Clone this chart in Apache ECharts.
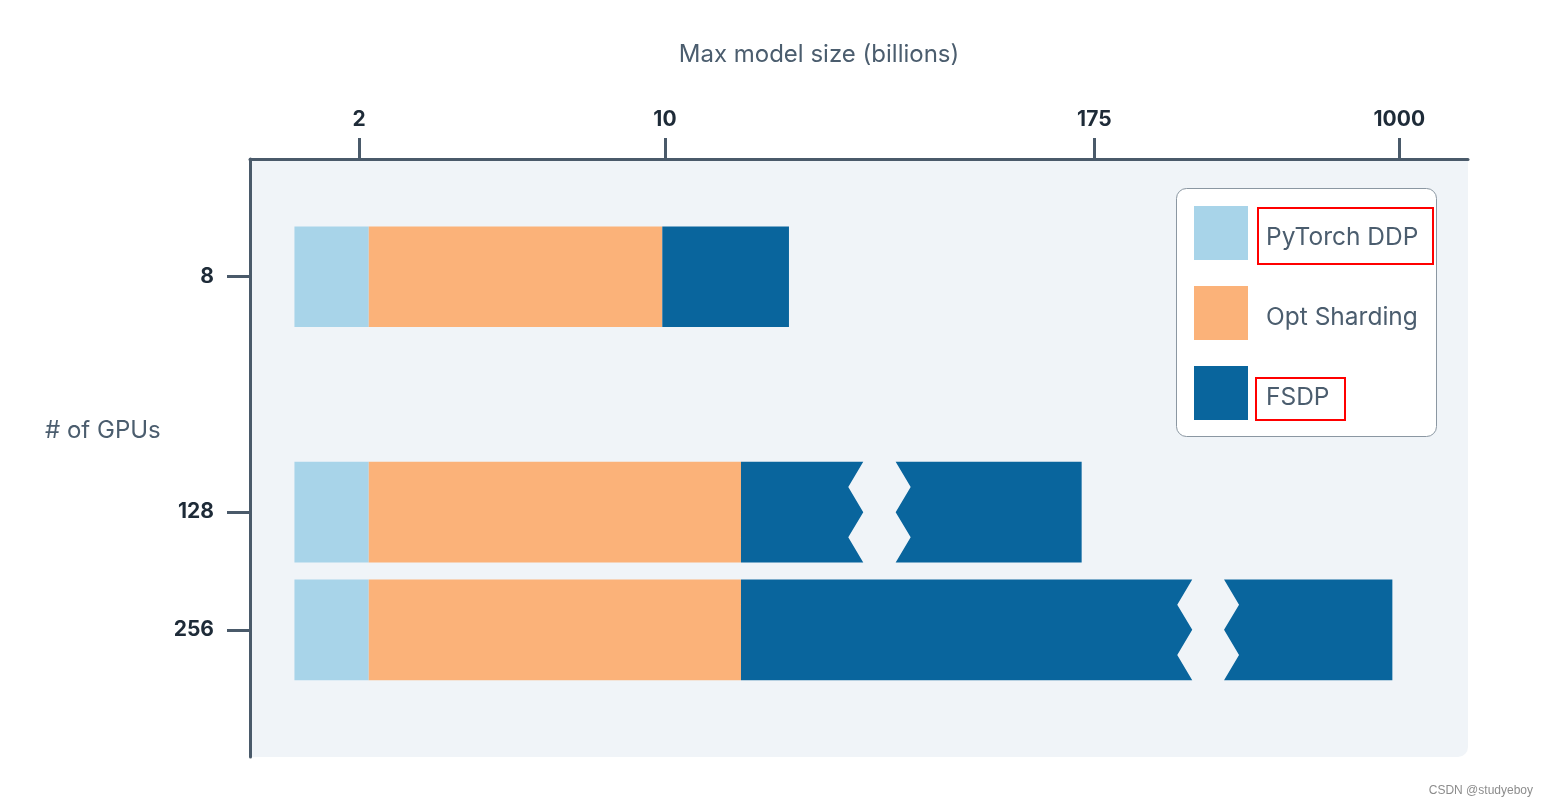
<!DOCTYPE html>
<html>
<head>
<meta charset="utf-8">
<script src="https://cdn.jsdelivr.net/npm/echarts@6/dist/echarts.min.js"></script>
<style>
html,body{margin:0;padding:0;background:#fff;}
#chart{width:1549px;height:809px;}
</style>
</head>
<body>
<div id="chart"></div>
<script>
// ---- data (schematic positions, x axis 0..100) ----
const gpuLabels = ['8', '128', '256'];
const gpuRowPos = [1, 3, 4];
const barStart = [3.65, 3.65, 3.65];
const ddpEnd = [9.75, 9.75, 9.75];
const optEnd = [33.85, 40.31, 40.31];
const fsdpEnd = [44.25, 68.28, 93.79];
const fsdpBreakFrom = [null, 50.35, 77.36];
const fsdpBreakTo = [null, 53.01, 79.97];
const xTickPos = [8.95, 34.07, 69.32, 94.36];
const xTickLabels = ['2', '10', '175', '1000'];
const seriesNames = ['PyTorch DDP', 'Opt Sharding', 'FSDP'];

const C_DDP = '#a8d4e9', C_OPT = '#fbb279', C_FSDP = '#09659d';
const AXIS = '#4a5a6a';
const BAR_H = 0.855;
const NOTCH = 15;
const FONT = 'Inter, "Noto Sans", sans-serif';

function rectItem(params, api) {
  const y = api.value(0), a = api.value(1), b = api.value(2);
  const p1 = api.coord([a, y]), p2 = api.coord([b, y]);
  const h = api.size([0, BAR_H])[1];
  return {
    type: 'rect',
    shape: { x: p1[0], y: p1[1] - h / 2, width: p2[0] - p1[0], height: h },
    style: { fill: api.visual('color') }
  };
}

function fsdpItem(params, api) {
  const y = api.value(0), a = api.value(1), b = api.value(2);
  const bf = api.value(3), bt = api.value(4);
  const h = api.size([0, BAR_H])[1];
  const pa = api.coord([a, y]), pb = api.coord([b, y]);
  const top = pa[1] - h / 2, bot = pa[1] + h / 2;
  const fill = api.visual('color');
  if (isNaN(bf) || isNaN(bt)) {
    return { type: 'rect', shape: { x: pa[0], y: top, width: pb[0] - pa[0], height: h }, style: { fill } };
  }
  const xf = api.coord([bf, y])[0], xt = api.coord([bt, y])[0];
  const left = [[pa[0], top], [xf, top], [xf - NOTCH, top + h / 4], [xf, top + h / 2],
                [xf - NOTCH, top + 3 * h / 4], [xf, bot], [pa[0], bot]];
  const right = [[xt, top], [pb[0], top], [pb[0], bot], [xt, bot],
                 [xt + NOTCH, top + 3 * h / 4], [xt, top + h / 2], [xt + NOTCH, top + h / 4]];
  return {
    type: 'group',
    children: [
      { type: 'polygon', shape: { points: left }, style: { fill } },
      { type: 'polygon', shape: { points: right }, style: { fill } }
    ]
  };
}

const chart = echarts.init(document.getElementById('chart'), null, { renderer: 'canvas' });

const option = {
  animation: false,
  backgroundColor: '#ffffff',
  textStyle: { fontFamily: FONT },
  grid: { left: 250, right: 81, top: 159, bottom: 52, containLabel: false },
  xAxis: {
    type: 'value', position: 'top', min: 0, max: 100,
    axisLine: { show: true, lineStyle: { color: AXIS, width: 3 } },
    axisTick: { show: true, length: 21, customValues: xTickPos, lineStyle: { color: AXIS, width: 3 } },
    axisLabel: {
      customValues: xTickPos, margin: 29,
      formatter: v => xTickLabels[xTickPos.indexOf(v)],
      color: '#1e2b38', fontSize: 21, fontWeight: 'bold', fontFamily: FONT
    },
    splitLine: { show: false }
  },
  yAxis: {
    type: 'value', inverse: true, min: 0, max: 5.08,
    axisLine: { show: true, lineStyle: { color: AXIS, width: 3 } },
    axisTick: { show: true, length: 23, customValues: gpuRowPos, lineStyle: { color: AXIS, width: 3 } },
    axisLabel: {
      customValues: gpuRowPos, margin: 36,
      formatter: v => gpuLabels[gpuRowPos.indexOf(v)],
      color: '#1e2b38', fontSize: 21, fontWeight: 'bold', fontFamily: FONT
    },
    splitLine: { show: false }
  },
  legend: {
    orient: 'vertical', left: 1194, top: 206, padding: 0,
    itemWidth: 54, itemHeight: 54, itemGap: 26, icon: 'rect', z: 10,
    data: seriesNames,
    formatter: name => '{t|' + name + '}',
    textStyle: {
      fontSize: 24.5, color: '#4b5d6e', fontFamily: FONT,
      rich: { t: { fontSize: 24.5, color: '#4b5d6e', fontFamily: FONT, padding: [10, 0, 0, 13] } }
    }
  },
  graphic: [
    { type: 'rect', z: -10, shape: { x: 250, y: 159, width: 1218, height: 598, r: [0, 0, 10, 0] }, style: { fill: '#f0f4f8' } },
    { type: 'rect', z: 3, shape: { x: 1176.5, y: 188.5, width: 260, height: 248, r: 10 }, style: { fill: '#ffffff', stroke: '#8b97a2', lineWidth: 1 } },
    { type: 'rect', z: 20, shape: { x: 1258, y: 208, width: 175, height: 56 }, style: { fill: 'none', stroke: '#ff0000', lineWidth: 2 } },
    { type: 'rect', z: 20, shape: { x: 1256, y: 378, width: 89, height: 42 }, style: { fill: 'none', stroke: '#ff0000', lineWidth: 2 } },
    { type: 'text', z: 20, style: { x: 819, y: 55, text: 'Max model size (billions)', textAlign: 'center', textVerticalAlign: 'middle', fontSize: 24, fill: '#4b5d6e', fontFamily: FONT } },
    { type: 'text', z: 20, style: { x: 45, y: 431, text: '# of GPUs', textAlign: 'left', textVerticalAlign: 'middle', fontSize: 24, fill: '#4b5d6e', fontFamily: FONT } },
    { type: 'text', z: 20, style: { x: 1533, y: 791, text: 'CSDN @studyeboy', textAlign: 'right', textVerticalAlign: 'middle', fontSize: 12, fill: '#8c8c8c', fontFamily: 'Arial, "Liberation Sans", sans-serif' } }
  ],
  series: [
    {
      name: seriesNames[0], type: 'custom', renderItem: rectItem,
      itemStyle: { color: C_DDP }, encode: { x: [1, 2], y: 0 },
      data: gpuRowPos.map((r, i) => [r, barStart[i], ddpEnd[i]])
    },
    {
      name: seriesNames[1], type: 'custom', renderItem: rectItem,
      itemStyle: { color: C_OPT }, encode: { x: [1, 2], y: 0 },
      data: gpuRowPos.map((r, i) => [r, ddpEnd[i], optEnd[i]])
    },
    {
      name: seriesNames[2], type: 'custom', renderItem: fsdpItem,
      itemStyle: { color: C_FSDP }, encode: { x: [1, 2], y: 0 },
      data: gpuRowPos.map((r, i) => [r, optEnd[i], fsdpEnd[i],
        fsdpBreakFrom[i] == null ? '-' : fsdpBreakFrom[i],
        fsdpBreakTo[i] == null ? '-' : fsdpBreakTo[i]])
    }
  ]
};
chart.setOption(option);
</script>
</body>
</html>
